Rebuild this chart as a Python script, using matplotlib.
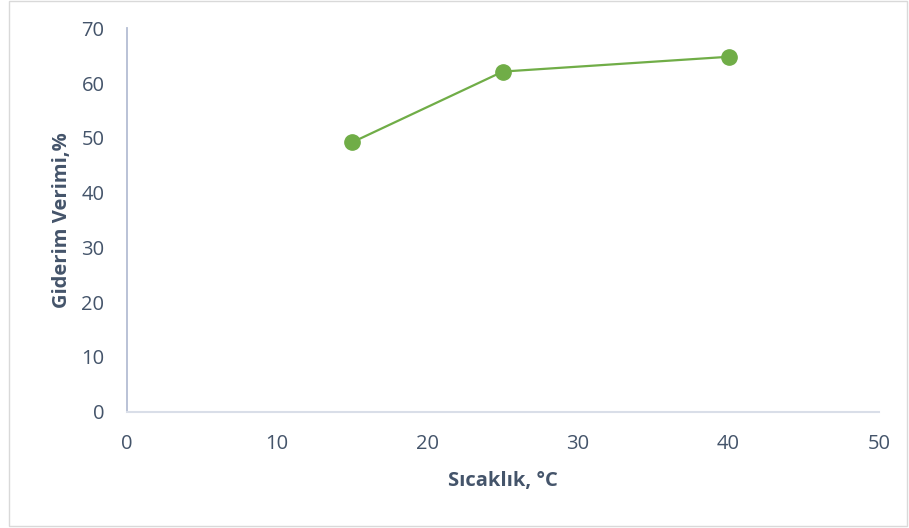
import matplotlib.pyplot as plt
from matplotlib.patches import Rectangle

# temperature (°C) vs removal efficiency (%)
sicaklik = [15, 25, 40]
verim = [49.2, 62.1, 64.8]

x_ticks = [0, 10, 20, 30, 40, 50]
y_ticks = [0, 10, 20, 30, 40, 50, 60, 70]

text_color = '#44546A'
green = '#70AD47'

plt.rcParams['font.family'] = ['Open Sans', 'DejaVu Sans']

fig = plt.figure(figsize=(9.09, 5.28), dpi=100)
ax = fig.add_axes([0.1394, 0.2203, 0.9670 - 0.1394, 0.9464 - 0.2203])

ax.plot(sicaklik, verim, color=green, linewidth=1.6, marker='o',
        markersize=11, markerfacecolor=green, markeredgecolor=green)

ax.set_xlim(0, 50)
ax.set_ylim(0, 70)
ax.set_xticks(x_ticks)
ax.set_yticks(y_ticks)
ax.tick_params(axis='both', length=0, labelsize=14.5, labelcolor=text_color)
ax.tick_params(axis='x', pad=16)
ax.tick_params(axis='y', pad=16)

for side in ['top', 'right']:
    ax.spines[side].set_visible(False)
ax.spines['left'].set_color('#B4BDD3')
ax.spines['left'].set_linewidth(1.3)
ax.spines['bottom'].set_color('#D9DEE8')
ax.spines['bottom'].set_linewidth(1.5)

ax.set_xlabel('Sıcaklık, °C', fontsize=14.5, fontweight='bold',
              color=text_color, labelpad=12)
ax.set_ylabel('Giderim Verimi,%', fontsize=14.5, fontweight='bold',
              color=text_color, labelpad=7)

# chart area border
fig.patches.append(Rectangle((9 / 909, 2 / 528), 898 / 909, 525 / 528,
                             transform=fig.transFigure, fill=False,
                             edgecolor='#D9D9D9', linewidth=1))

fig.savefig('out.png', dpi=100)
